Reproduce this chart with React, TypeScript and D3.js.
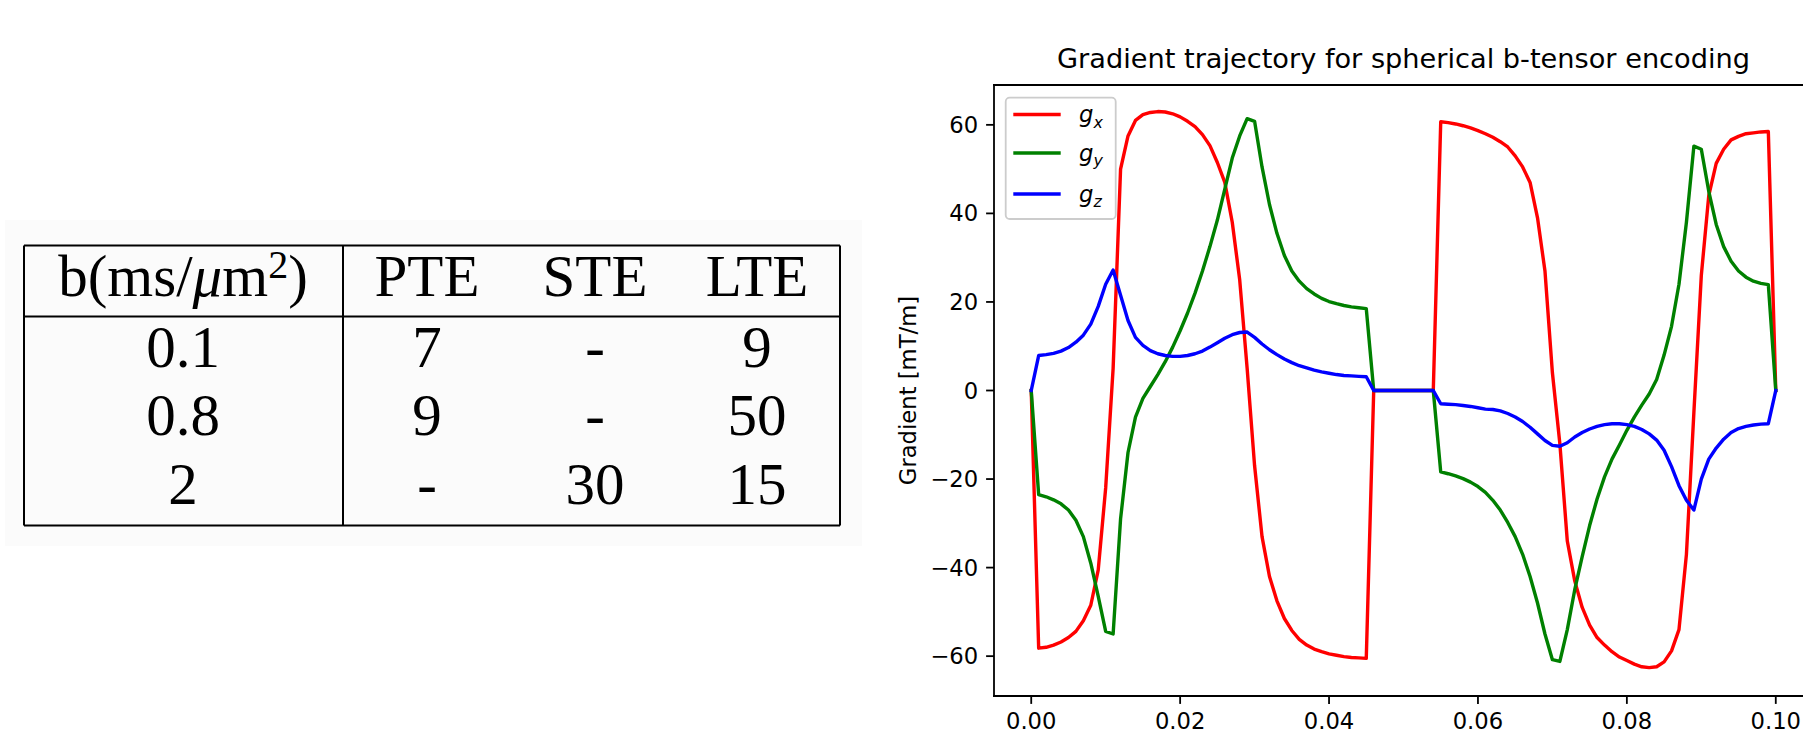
import React from "react";
import * as d3 from "d3";

// ---------- Table data ----------
const TABLE_COLS = ["PTE", "STE", "LTE"];
const B_VALUES = ["0.1", "0.8", "2"];
const PTE_VALUES = ["7", "9", "-"];
const STE_VALUES = ["-", "-", "30"];
const LTE_VALUES = ["9", "50", "15"];

// ---------- Chart data ----------
const TITLE = "Gradient trajectory for spherical b-tensor encoding";
const Y_LABEL = "Gradient [mT/m]";
// time in ms
const T_MS = [
  0, 1, 2, 3, 4, 5, 6, 7, 8, 9, 10, 11, 12, 13, 14, 15, 16, 17, 18, 19, 20,
  21, 22, 23, 24, 25, 26, 27, 28, 29, 30, 31, 32, 33, 34, 35, 36, 37, 38, 39, 40,
  41, 42, 43, 44, 45, 46, 47, 48, 49, 50, 51, 52, 53, 54, 55, 56, 57, 58, 59, 60,
  61, 62, 63, 64, 65, 66, 67, 68, 69, 70, 71, 72, 73, 74, 75, 76, 77, 78, 79, 80,
  81, 82, 83, 84, 85, 86, 87, 88, 89, 90, 91, 92, 93, 94, 95, 96, 97, 98, 99, 100,
];
const GX = [
  0, -58.2, -58.0, -57.5, -56.8, -55.8, -54.4, -52.0, -48.5, -40.5, -22.0,
  5.0, 50.0, 57.5, 61.0, 62.3, 62.8, 63.0, 62.9, 62.5, 61.8,
  60.8, 59.6, 57.8, 55.3, 51.5, 47.0, 38.0, 25.0, 5.0, -17.0,
  -33.0, -42.0, -47.5, -51.5, -54.2, -56.2, -57.5, -58.4, -59.0, -59.5,
  -59.8, -60.1, -60.3, -60.4, -60.5, 0, 0, 0, 0, 0,
  0, 0, 0, 0, 60.7, 60.5, 60.2, 59.8, 59.3, 58.7,
  58.0, 57.2, 56.2, 55.0, 53.0, 50.5, 47.0, 39.0, 27.0, 4.0,
  -12.0, -34.0, -43.0, -49.0, -53.0, -55.8, -57.5, -59.0, -60.2, -61.0,
  -61.8, -62.4, -62.6, -62.4, -61.3, -58.8, -54.0, -37.0, -5.0, 26.0,
  44.0, 51.3, 54.5, 56.6, 57.4, 58.0, 58.2, 58.4, 58.5, 0,
];
const GY = [
  0, -23.5, -24.0, -24.7, -25.6, -27.0, -29.3, -33.0, -39.0, -46.5, -54.4,
  -55.0, -29.0, -14.0, -6.0, -1.8, 0.9, 3.6, 6.5, 9.8, 13.5,
  17.5, 22.0, 27.0, 32.5, 38.5, 45.5, 52.5, 57.5, 61.4, 60.8,
  50.5, 42.0, 35.5, 30.5, 27.0, 24.7, 23.0, 21.8, 20.8, 20.1,
  19.6, 19.2, 18.9, 18.7, 18.5, 0, 0, 0, 0, 0,
  0, 0, 0, 0, -18.4, -18.8, -19.3, -19.9, -20.7, -21.7,
  -23.0, -24.8, -27.0, -29.8, -33.0, -37.0, -42.0, -48.0, -55.0, -60.8,
  -61.2, -54.0, -45.0, -37.5, -30.5, -24.5, -19.5, -15.5, -12.3, -9.0,
  -6.0, -3.3, -0.8, 2.5, 8.0, 14.5, 24.0, 38.0, 55.2, 54.5,
  45.0, 37.5, 32.5, 29.2, 27.0, 25.6, 24.7, 24.2, 23.9, 0,
];
const GZ = [
  0, 7.9, 8.1, 8.4, 8.9, 9.7, 10.9, 12.5, 15.0, 19.0, 24.0,
  27.2, 21.5, 15.8, 12.0, 10.2, 9.0, 8.3, 7.9, 7.7, 7.7,
  7.9, 8.3, 8.9, 9.8, 10.8, 11.8, 12.6, 13.1, 13.2, 12.0,
  10.5, 9.2, 8.1, 7.1, 6.3, 5.6, 5.1, 4.6, 4.2, 3.9,
  3.6, 3.4, 3.3, 3.2, 3.1, 0, 0, 0, 0, 0,
  0, 0, 0, 0, -3.0, -3.1, -3.2, -3.4, -3.6, -3.9,
  -4.2, -4.3, -4.6, -5.2, -6.0, -7.0, -8.3, -9.8, -11.3, -12.4,
  -12.6, -11.8, -10.5, -9.5, -8.7, -8.1, -7.7, -7.5, -7.5, -7.7,
  -8.1, -8.8, -9.8, -11.2, -13.5, -17.2, -21.5, -24.8, -27.0, -20.0,
  -15.5, -13.0, -11.0, -9.5, -8.6, -8.1, -7.8, -7.6, -7.5, 0,
];
const SERIES_SUBSCRIPTS = ["x", "y", "z"];
const SERIES_COLORS = ["#ff0000", "#008000", "#0000ff"];
const X_TICKS = [0, 0.02, 0.04, 0.06, 0.08, 0.1];
const Y_TICKS = [-60, -40, -20, 0, 20, 40, 60];

const SANS = "'DejaVu Sans', Verdana, sans-serif";
const SERIF = "'Liberation Serif', 'Times New Roman', serif";

export default function App() {
  const W = 1803;
  const H = 738;

  // axes box
  const left = 994;
  const right = 1813;
  const top = 85;
  const bottom = 696;

  const x = d3.scaleLinear().domain([-0.005, 0.105]).range([left, right]);
  const y = d3.scaleLinear().domain([-69, 69]).range([bottom, top]);

  const series = [GX, GY, GZ].map((vals, i) => ({
    sub: SERIES_SUBSCRIPTS[i],
    color: SERIES_COLORS[i],
    values: vals,
  }));

  const line = d3
    .line<number>()
    .x((_, i) => x(T_MS[i] / 1000))
    .y((d) => y(d));

  const fmtX = d3.format(".2f");
  const fmtY = (v: number) => (v < 0 ? "\u2212" + Math.abs(v) : String(v));

  const tickLen = 7.9;
  const tickPad = 7.9;
  const tickFont = 22.7;
  const spineW = 1.8;
  const lineW = 3.4;

  // table layout
  const tLeft = 24;
  const tRight = 840;
  const tTop = 245.5;
  const tSep = 316.5;
  const tBottom = 525.5;
  const tVert = 343;
  const colX = [183, 427, 595, 757];
  const headBase = 295.5;
  const rowBase = [366.5, 435, 504];
  const tFont = 59;

  const rows = B_VALUES.map((b, i) => [b, PTE_VALUES[i], STE_VALUES[i], LTE_VALUES[i]]);

  // legend layout
  const legX = 1005.7;
  const legY = 97.7;
  const legW = 110;
  const legH = 121.3;
  const legLineY = [114.5, 153, 194];
  const legBase = [122, 160.5, 201.5];

  return (
    <div style={{ position: "absolute", left: 0, top: 0, width: W, height: H, background: "#fff" }}>
      <svg width={W} height={H} viewBox={`0 0 ${W} ${H}`} style={{ display: "block" }}>
        <rect x={0} y={0} width={W} height={H} fill="#ffffff" />

        {/* ---------------- Table ---------------- */}
        <rect x={5} y={220} width={857} height={326} fill="#fbfbfb" />
        <g stroke="#000" strokeWidth={2} fill="none">
          <line x1={tLeft} x2={tRight} y1={tTop} y2={tTop} />
          <line x1={tLeft} x2={tRight} y1={tSep} y2={tSep} />
          <line x1={tLeft} x2={tRight} y1={tBottom} y2={tBottom} />
          <line x1={tLeft} x2={tLeft} y1={tTop} y2={tBottom} />
          <line x1={tRight} x2={tRight} y1={tTop} y2={tBottom} />
          <line x1={tVert} x2={tVert} y1={tTop} y2={tBottom} />
        </g>
        <g fontFamily={SERIF} fontSize={tFont} fill="#000" textAnchor="middle">
          <text x={colX[0]} y={headBase}>
            b(ms/<tspan fontStyle="italic">μ</tspan>m
            <tspan fontSize={40} dy={-17.5}>2</tspan>
            <tspan dy={17.5}>)</tspan>
          </text>
          {TABLE_COLS.map((c, i) => (
            <text key={c} x={colX[i + 1]} y={headBase}>
              {c}
            </text>
          ))}
          {rows.map((r, ri) =>
            r.map((cell, ci) => (
              <text key={`${ri}-${ci}`} x={colX[ci]} y={rowBase[ri]}>
                {cell}
              </text>
            ))
          )}
        </g>

        {/* ---------------- Chart ---------------- */}
        <defs>
          <clipPath id="plotclip">
            <rect x={left} y={top} width={right - left} height={bottom - top} />
          </clipPath>
        </defs>

        <text
          x={(left + right) / 2}
          y={68}
          fontFamily={SANS}
          fontSize={27.2}
          textAnchor="middle"
          fill="#000"
        >
          {TITLE}
        </text>

        <g clipPath="url(#plotclip)">
          {series.map((s) => (
            <path
              key={s.sub}
              d={line(s.values) || ""}
              fill="none"
              stroke={s.color}
              strokeWidth={lineW}
              strokeLinejoin="round"
              strokeLinecap="square"
            />
          ))}
        </g>

        {/* spines */}
        <g stroke="#000" strokeWidth={spineW} strokeLinecap="square">
          <line x1={left} x2={left} y1={top} y2={bottom} />
          <line x1={left} x2={right} y1={top} y2={top} />
          <line x1={left} x2={right} y1={bottom} y2={bottom} />
          <line x1={right} x2={right} y1={top} y2={bottom} />
        </g>

        {/* y ticks */}
        <g fontFamily={SANS} fontSize={tickFont} fill="#000">
          {Y_TICKS.map((t) => (
            <g key={t}>
              <line x1={left - tickLen} x2={left} y1={y(t)} y2={y(t)} stroke="#000" strokeWidth={spineW} />
              <text x={left - tickLen - tickPad} y={y(t) + 8.1} textAnchor="end">
                {fmtY(t)}
              </text>
            </g>
          ))}
        </g>

        {/* x ticks */}
        <g fontFamily={SANS} fontSize={tickFont} fill="#000">
          {X_TICKS.map((t) => (
            <g key={t}>
              <line x1={x(t)} x2={x(t)} y1={bottom} y2={bottom + tickLen} stroke="#000" strokeWidth={spineW} />
              <text x={x(t)} y={729} textAnchor="middle">
                {fmtX(t)}
              </text>
            </g>
          ))}
        </g>

        {/* y label */}
        <text
          transform={`translate(915.5, ${(top + bottom) / 2}) rotate(-90)`}
          fontFamily={SANS}
          fontSize={tickFont}
          textAnchor="middle"
          fill="#000"
        >
          {Y_LABEL}
        </text>

        {/* legend */}
        <rect
          x={legX}
          y={legY}
          width={legW}
          height={legH}
          rx={4}
          ry={4}
          fill="#ffffff"
          fillOpacity={0.8}
          stroke="#cccccc"
          strokeWidth={spineW}
        />
        {series.map((s, i) => (
          <g key={s.sub}>
            <line
              x1={1013.3}
              x2={1060.7}
              y1={legLineY[i]}
              y2={legLineY[i]}
              stroke={s.color}
              strokeWidth={lineW}
            />
            <text x={1079} y={legBase[i]} fontFamily={SANS} fontSize={tickFont} fontStyle="italic" fill="#000">
              g
              <tspan fontSize={15.9} dy={5.5}>
                {s.sub}
              </tspan>
            </text>
          </g>
        ))}
      </svg>
    </div>
  );
}
